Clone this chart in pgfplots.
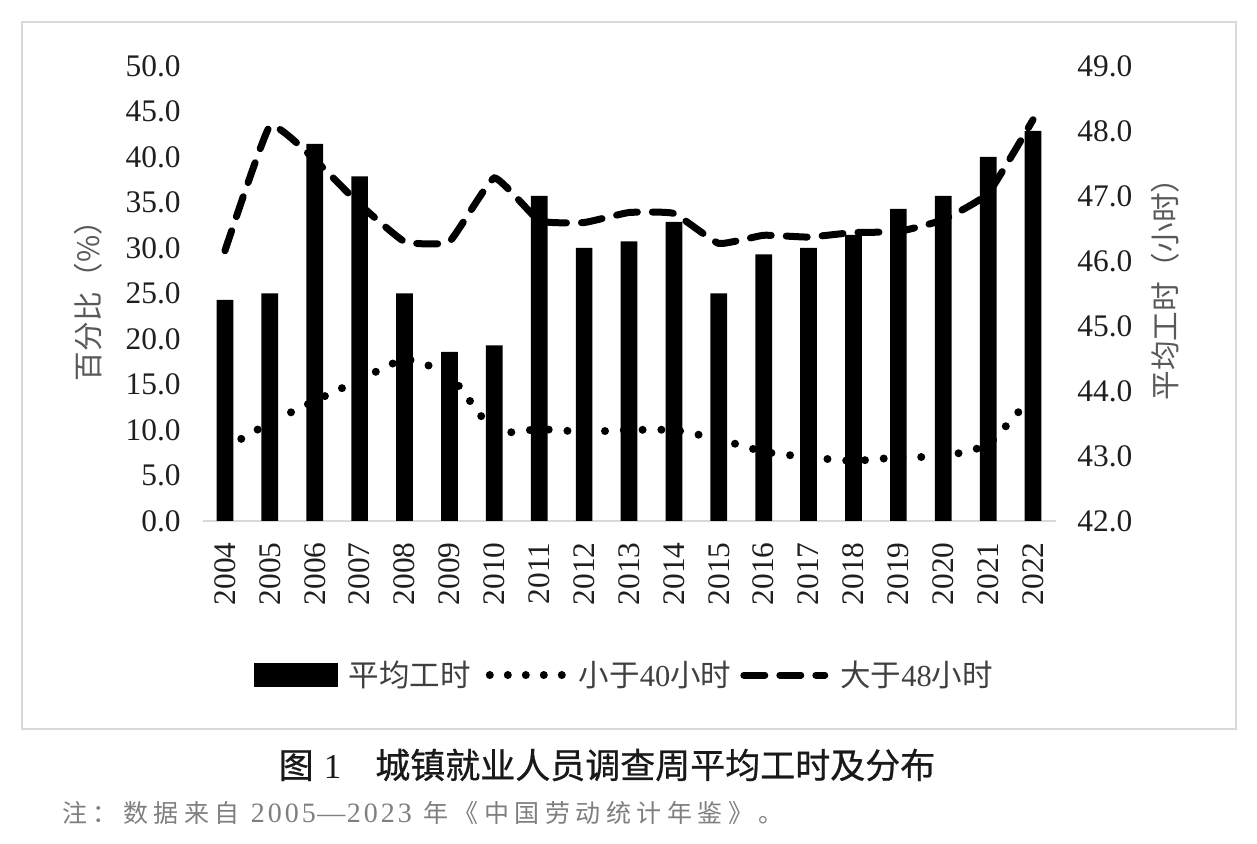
\documentclass[border=0pt]{standalone}
\usepackage{fontspec}
\setmainfont{Liberation Serif}
\newfontfamily\cjk{Noto Sans CJK SC}
\newfontfamily\cjkcap{Noto Sans CJK SC}[FakeBold=0.7]
\usepackage{pgfplots}
\usepackage{pgfplotstable}
\pgfplotsset{compat=1.18}

\definecolor{tickgray}{HTML}{1F1F1F}
\definecolor{labgray}{HTML}{595959}
\definecolor{leggray}{HTML}{404040}
\definecolor{notegray}{HTML}{7F7F7F}
\definecolor{framegray}{HTML}{D9D9D9}

\newcommand\nc[1]{\makebox[15.25bp][l]{#1}}
\newcommand\nd[1]{\makebox[8.5bp][c]{#1}}

\pgfplotstableread{
x year hours lt40 gt48
0 2004 45.4 8.0 29.7
1 2005 45.5 10.8 43.4
2 2006 47.8 13.2 39.7
3 2007 47.3 15.5 34.8
4 2008 45.5 17.8 30.7
5 2009 44.6 16.1 30.7
6 2010 44.7 9.8 37.7
7 2011 47.0 10.1 33.0
8 2012 46.2 9.8 32.8
9 2013 46.3 10.0 33.9
10 2014 46.6 10.0 33.8
11 2015 45.5 9.0 30.5
12 2016 46.1 7.6 31.4
13 2017 46.2 7.0 31.2
14 2018 46.4 6.6 31.7
15 2019 46.8 7.0 31.8
16 2020 47.0 7.1 33.1
17 2021 47.6 8.4 36.0
18 2022 48.0 13.8 44.1
}\datatable

\begin{document}
\begin{tikzpicture}
\fill[white] (0,0) rectangle (628.5bp,422bp);
\path[use as bounding box] (0,0) rectangle (628.5bp,422bp);
\draw[framegray, line width=1bp] (11bp,57.5bp) rectangle (618bp,411bp);

% bars: average weekly hours, right axis
\begin{axis}[
  at={(101.25bp,161.5bp)}, anchor=south west,
  scale only axis, width=426.5bp, height=227.5bp,
  xmin=-0.5, xmax=18.5, ymin=42, ymax=49,
  axis x line*=bottom, axis y line*=right,
  x axis line style={draw=framegray, line width=1bp},
  y axis line style={draw=none},
  major tick length=0pt,
  xtick={0,1,...,18},
  xticklabels={2004,2005,2006,2007,2008,2009,2010,2011,2012,2013,2014,2015,2016,2017,2018,2019,2020,2021,2022},
  ytick={42,43,...,49},
  /pgf/number format/assume math mode=true,
  tick label style={font=\fontsize{15.7bp}{18bp}\selectfont, text=tickgray},
  xticklabel style={yshift=-10.5bp, rotate=90, anchor=east, inner sep=0pt},
  yticklabel style={anchor=west, inner sep=0pt, xshift=10.75bp,
    /pgf/number format/.cd, fixed, fixed zerofill, precision=1},
  ylabel={\cjk 平均工时（小时）},
  ylabel style={at={(axis description cs:1.1284,0.525)}, anchor=center,
    font=\fontsize{14.8bp}{16bp}\selectfont, text=labgray},
]
\addplot[ybar, bar width=8.35bp, fill=black, draw=none] table[x=x, y=hours] {\datatable};
\end{axis}

% lines: shares, left axis
\begin{axis}[
  at={(101.25bp,161.5bp)}, anchor=south west,
  scale only axis, width=426.5bp, height=227.5bp,
  xmin=-0.5, xmax=18.5, ymin=0, ymax=50,
  axis x line=none, axis y line*=left,
  y axis line style={draw=none},
  major tick length=0pt,
  ytick={0,5,...,50},
  /pgf/number format/assume math mode=true,
  tick label style={font=\fontsize{15.7bp}{18bp}\selectfont, text=tickgray},
  yticklabel style={anchor=east, inner sep=0pt, xshift=-10.75bp,
    /pgf/number format/.cd, fixed, fixed zerofill, precision=1},
  ylabel={\cjk 百分比（\%）},
  ylabel style={at={(axis description cs:-0.1342,0.50)}, anchor=center,
    font=\fontsize{14.8bp}{16bp}\selectfont, text=labgray},
  legend columns=-1,
  legend cell align=left,
  legend style={at={(0.0604,-0.3385)}, anchor=west, draw=none, fill=none,
    inner sep=0pt, outer sep=0pt, column sep=0pt,
    font=\fontsize{15.25bp}{18bp}\selectfont, text=leggray,
    nodes={inner sep=0pt}},
]
\addlegendimage{legend image code/.code={\fill[black] (0bp,-5.75bp) rectangle (41.5bp,5.75bp); \path (47bp,0bp);}}
\addlegendentry{\cjk 平均工时}
\addplot[black, smooth, tension=0.22, line width=4bp, line cap=round, dash pattern=on 0bp off 9.4bp,
  legend image code/.code={\path (0bp,0bp) (50bp,0bp); \draw[black, line width=4bp, line cap=round, dash pattern=on 0bp off 9bp] (7.5bp,0bp) -- (43.6bp,0bp);}]
  table[x=x, y=lt40] {\datatable};
\addlegendentry{{\cjk 小于}40{\cjk 小时}}
\addplot[black, smooth, tension=0.22, line width=3.5bp, line cap=round, dash pattern=on 10.5bp off 7.5bp,
  legend image code/.code={\path (0bp,0bp) (51bp,0bp); \draw[black, line width=3.5bp, line cap=round, dash pattern=on 10.5bp off 7.5bp] (4.5bp,0bp) -- (45bp,0bp);}]
  table[x=x, y=gt48] {\datatable};
\addlegendentry{{\cjk 大于}48{\cjk 小时}}
\end{axis}

\node[anchor=center, inner sep=0pt, text=black!90] at (303.5bp,39.5bp)
  {\fontsize{17.5bp}{20bp}\selectfont{\cjkcap 图}\hspace{5bp}1\hspace{17bp}{\cjkcap 城镇就业人员调查周平均工时及分布}};
\node[anchor=west, inner sep=0pt, text=notegray] at (31bp,15.5bp)
  {{\fontsize{12.5bp}{14bp}\selectfont\cjk \nc{注}\nc{：}\nc{数}\nc{据}\nc{来}\nc{自}}\hspace{2bp}{\fontsize{14bp}{16bp}\selectfont\nd{2}\nd{0}\nd{0}\nd{5}\makebox[14bp][c]{—}\nd{2}\nd{0}\nd{2}\nd{3}}\hspace{5bp}{\fontsize{12.5bp}{14bp}\selectfont\cjk \nc{年}\nc{《}\nc{中}\nc{国}\nc{劳}\nc{动}\nc{统}\nc{计}\nc{年}\nc{鉴}\nc{》}\nc{。}}};
\end{tikzpicture}
\end{document}
